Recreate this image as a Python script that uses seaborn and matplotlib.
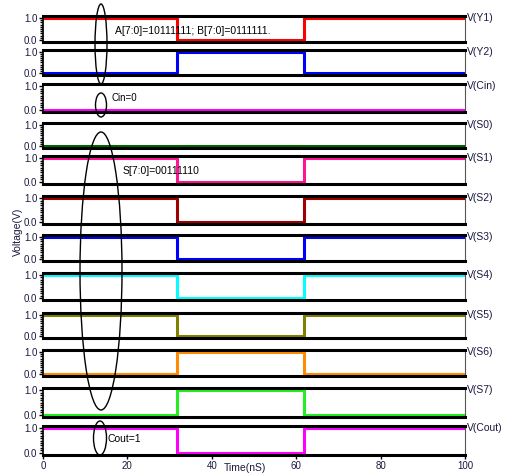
import numpy as np
import pandas as pd
import matplotlib
matplotlib.use("Agg")
import matplotlib.pyplot as plt
import seaborn as sns
from matplotlib.patches import Ellipse
from matplotlib.ticker import MultipleLocator

sns.set_theme(style="white")
plt.rcParams['font.family'] = ['Liberation Sans', 'DejaVu Sans']

# ---- data ----
signals = ["V(Y1)", "V(Y2)", "V(Cin)", "V(S0)", "V(S1)", "V(S2)", "V(S3)",
           "V(S4)", "V(S5)", "V(S6)", "V(S7)", "V(Cout)"]
times = [0, 31.7, 61.8, 100]
levels_Y1 = [1, 0, 1, 1]
levels_Y2 = [0, 1, 0, 0]
levels_Cin = [0, 0, 0, 0]
levels_S0 = [0, 0, 0, 0]
levels_S1 = [1, 0, 1, 1]
levels_S2 = [1, 0, 1, 1]
levels_S3 = [1, 0, 1, 1]
levels_S4 = [1, 0, 1, 1]
levels_S5 = [1, 0, 1, 1]
levels_S6 = [0, 1, 0, 0]
levels_S7 = [0, 1, 0, 0]
levels_Cout = [1, 0, 1, 1]
all_levels = [levels_Y1, levels_Y2, levels_Cin, levels_S0, levels_S1, levels_S2,
              levels_S3, levels_S4, levels_S5, levels_S6, levels_S7, levels_Cout]
colors = ["#ff0000", "#0000ff", "#ff00ff", "#006400", "#ff1493", "#a00000",
          "#0000ff", "#00ffff", "#808000", "#ff8c00", "#22ee22", "#ff00ff"]
x_ticks = [0, 20, 40, 60, 80, 100]
y_ticks = [0.0, 1.0]
y_ticklabels = ["0.0", "1.0"]

# ---- layout (pixel positions of panel top/bottom) ----
W, H = 505, 473
panel_px = [(16, 42), (50, 75), (84, 112), (123, 148), (156, 184), (196, 224),
            (235, 261), (273, 300), (313, 338), (350, 376), (388, 417), (426, 455)]
left_px, right_px = 43, 465

fig = plt.figure(figsize=(W / 100, H / 100), dpi=100)
tick_color = "#1a1a40"

axes = []
for i, (name, lv, col) in enumerate(zip(signals, all_levels, colors)):
    top, bot = panel_px[i]
    ax = fig.add_axes([left_px / W, 1 - bot / H, (right_px - left_px) / W, (bot - top) / H])
    df = pd.DataFrame({"t": times, "v": lv})
    sns.lineplot(data=df, x="t", y="v", ax=ax, color=col, linewidth=2.2,
                 drawstyle="steps-post", legend=False)
    ax.set_xlim(0, 100)
    ax.set_ylim(-0.09, 1.09)
    ax.set_yticks(y_ticks)
    ax.set_yticklabels(y_ticklabels)
    ax.yaxis.set_minor_locator(MultipleLocator(0.1))
    ax.tick_params(axis="y", which="both", left=True, right=False)
    ax.tick_params(axis="y", which="major", length=3, width=1, direction="out",
                   labelsize=7, colors="black", labelcolor=tick_color, pad=1)
    ax.tick_params(axis="y", which="minor", length=2, width=1, direction="out", colors="black")
    ax.set_xlabel("")
    ax.set_ylabel("")
    for s in ["top", "bottom"]:
        ax.spines[s].set_linewidth(2.2)
        ax.spines[s].set_color("black")
    ax.spines["left"].set_linewidth(1.2)
    ax.spines["left"].set_color("black")
    ax.spines["right"].set_linewidth(0.8)
    ax.spines["right"].set_color("#555555")
    ax.set_facecolor("white")
    ax.text(1.004, 0.93, name, transform=ax.transAxes,
            fontsize=7.5, color=tick_color, ha="left", va="center")
    ax.set_xticks(x_ticks)
    if i < len(signals) - 1:
        ax.tick_params(axis="x", bottom=False, length=0, labelbottom=False)
    else:
        ax.set_xticklabels([str(t) for t in x_ticks])
        ax.tick_params(axis="x", bottom=True, length=3, width=1, direction="out", labelsize=7,
                       colors="black", labelcolor=tick_color, pad=1)
    axes.append(ax)

fig.text(18 / W, 1 - 232 / H, "Voltage(V)", rotation=90, fontsize=7.5,
         color=tick_color, ha="center", va="center")
fig.text(245 / W, 1 - 468 / H, "Time(nS)", fontsize=7.5, color=tick_color,
         ha="center", va="center")

# ---- annotations overlay in pixel coordinates ----
ov = fig.add_axes([0, 0, 1, 1], facecolor="none")
ov.set_xlim(0, W)
ov.set_ylim(H, 0)
ov.axis("off")
for (cx, cy, w, h) in [(101, 44, 12, 80), (101, 105, 11, 24), (101, 271, 42, 278), (100, 438, 13, 34)]:
    ov.add_patch(Ellipse((cx, cy), w, h, fill=False, edgecolor="black", linewidth=1.0))
ov.text(115, 31, "A[7:0]=10111111; B[7:0]=0111111.", fontsize=7.5, color="black", va="center")
ov.text(112, 98, "Cin=0", fontsize=7, color="black", va="center")
ov.text(123, 171, "S[7:0]=00111110", fontsize=7.5, color="black", va="center")
ov.text(108, 439, "Cout=1", fontsize=7.5, color="black", va="center")

fig.savefig("out.png", dpi=100, facecolor="white")
